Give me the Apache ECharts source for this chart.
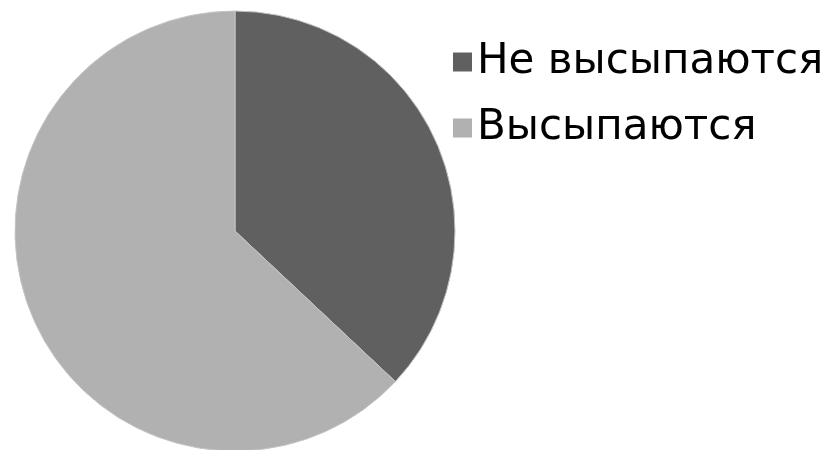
<!DOCTYPE html>
<html>
<head>
<meta charset="utf-8">
<script src="https://cdn.jsdelivr.net/npm/echarts@6/dist/echarts.min.js"></script>
<style>
html,body{margin:0;padding:0;background:#fff;}
#main{width:830px;height:450px;}
</style>
</head>
<body>
<div id="main"></div>
<script>
const categories = ['Не высыпаются', 'Высыпаются'];
const values = [37, 63];
const colors = ['#606060', '#b1b1b1'];

const chart = echarts.init(document.getElementById('main'));
chart.setOption({
  animation: false,
  color: colors,
  legend: {
    orient: 'vertical',
    left: 448,
    top: 34,
    padding: 5,
    icon: 'rect',
    itemWidth: 19,
    itemHeight: 19,
    itemGap: 20,
    itemStyle: { borderWidth: 0 },
    data: categories,
    textStyle: {
      fontFamily: 'DejaVu Sans',
      fontSize: 42,
      lineHeight: 46,
      color: '#000'
    }
  },
  series: [{
    type: 'pie',
    center: [235, 231],
    radius: 220,
    startAngle: 90,
    clockwise: true,
    label: { show: false },
    labelLine: { show: false },
    itemStyle: { borderColor: '#c4c4c4', borderWidth: 1 },
    emphasis: { disabled: true },
    data: categories.map((c, i) => ({ name: c, value: values[i] }))
  }]
});
</script>
</body>
</html>
